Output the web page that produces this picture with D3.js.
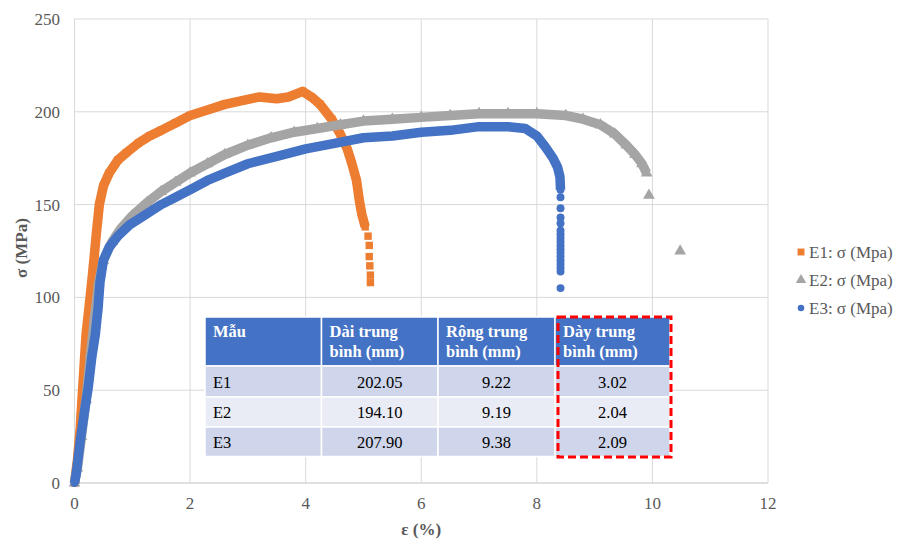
<!DOCTYPE html>
<html>
<head>
<meta charset="utf-8">
<script src="https://cdn.jsdelivr.net/npm/d3@7"></script>
<style>
  body { margin: 0; background: #fff; }
</style>
</head>
<body>
<div id="chart"></div>
<script>
// strain (%) / stress (MPa)
const e1Curve = [[0,0],[0.05,12],[0.1,30],[0.15,55],[0.2,80],[0.27,100],[0.32,115],[0.38,135],[0.43,150],[0.5,160],[0.6,167],[0.75,174],[0.9,178],[1.1,183],[1.3,187],[1.5,190],[1.75,194],[2.0,198],[2.3,201],[2.6,204],[2.9,206],[3.2,208],[3.5,207],[3.7,208],[3.95,211],[4.1,208],[4.25,204],[4.45,196],[4.6,188],[4.72,180],[4.8,172],[4.88,163],[4.93,152],[4.97,145],[5.03,138]];
const e1Tail = [[5.08,133],[5.1,128],[5.1,122],[5.11,117],[5.12,112],[5.12,108]];

const e2Curve = [[0,0],[0.05,8],[0.12,25],[0.2,45],[0.28,70],[0.35,90],[0.42,108],[0.5,120],[0.65,130],[0.8,137],[1.0,144],[1.25,151],[1.5,157],[1.75,162],[2.0,167],[2.3,172],[2.6,177],[3.0,182],[3.4,186],[3.8,189],[4.2,191],[4.6,193],[5.0,195],[5.5,196],[6.0,197],[6.5,198],[7.0,199],[7.5,199],[8.0,199],[8.5,198],[8.8,196],[9.1,193],[9.35,188],[9.55,182],[9.7,177],[9.82,172],[9.9,167]];
const e2Tail = [[9.94,155],[10.48,125]];

const e3Curve = [[0,0],[0.03,5],[0.1,23],[0.17,38],[0.24,52],[0.3,68],[0.36,80],[0.41,95],[0.44,108],[0.5,120],[0.6,127],[0.75,133],[0.95,139],[1.2,144],[1.5,150],[1.75,154],[2.0,158],[2.3,163],[2.6,167],[3.0,172],[3.5,176],[4.0,180],[4.5,183],[5.0,186],[5.5,187],[6.0,189],[6.5,190],[7.0,192],[7.5,192],[7.8,191],[8.0,187],[8.15,181],[8.28,175],[8.36,170],[8.4,165],[8.41,158]];
const e3Tail = [[8.41,154],[8.41,148],[8.41,143],[8.41,140],[8.41,136],[8.41,134],[8.41,132],[8.41,130],[8.41,128],[8.41,126],[8.41,124],[8.41,122],[8.41,120],[8.41,118],[8.41,116],[8.41,114],[8.41,105]];

const seriesNames = ["E1: σ (Mpa)", "E2: σ (Mpa)", "E3: σ (Mpa)"];
const seriesColors = ["#ED7D31", "#A5A5A5", "#4472C4"];
const seriesSymbols = [d3.symbolSquare, d3.symbolTriangle, d3.symbolCircle];

const xTicks = [0, 2, 4, 6, 8, 10, 12];
const yTicks = [0, 50, 100, 150, 200, 250];

// table inset
const tableHeader = ["Mẫu", "Dài trung|bình (mm)", "Rộng trung|bình (mm)", "Dày trung|bình (mm)"];
const tableSamples = ["E1", "E2", "E3"];
const tableLength = ["202.05", "194.10", "207.90"];
const tableWidth = ["9.22", "9.19", "9.38"];
const tableThick = ["3.02", "2.04", "2.09"];

// pick the first serif face that is really installed
function pickFont(list) {
  const ctx = document.createElement("canvas").getContext("2d");
  const probe = "mmmmmwwwwlli 0123456789 Mẫu";
  const widthOf = f => { ctx.font = "40px " + f; return ctx.measureText(probe).width; };
  const mono = widthOf("monospace"), sans = widthOf("sans-serif");
  for (const f of list) {
    const w1 = widthOf(`"${f}", monospace`), w2 = widthOf(`"${f}", sans-serif`);
    if (w1 !== mono || w2 !== sans) return `"${f}"`;
  }
  return "serif";
}
const FONT = pickFont(["Liberation Serif", "Times New Roman", "Tinos", "Noto Serif", "DejaVu Serif", "FreeSerif"]) + ", serif";

const W = 902, H = 540;
const svg = d3.select("#chart").append("svg")
  .attr("width", W).attr("height", H)
  .style("font-family", FONT);

const x = d3.scaleLinear().domain([0, 12]).range([74.5, 768]);
const y = d3.scaleLinear().domain([0, 250]).range([483, 19]);

// grid
svg.append("g").selectAll("line").data(yTicks).join("line")
  .attr("x1", x(0)).attr("x2", x(12))
  .attr("y1", d => y(d)).attr("y2", d => y(d))
  .attr("stroke", d => d === 0 ? "#bfbfbf" : "#d9d9d9").attr("stroke-width", 1);
svg.append("g").selectAll("line").data(xTicks).join("line")
  .attr("x1", d => x(d)).attr("x2", d => x(d))
  .attr("y1", y(0)).attr("y2", y(250))
  .attr("stroke", "#d9d9d9").attr("stroke-width", 1);

// tick labels
svg.append("g").selectAll("text").data(yTicks).join("text")
  .attr("x", 60).attr("y", d => y(d) + 6)
  .attr("text-anchor", "end").attr("font-size", 17).attr("fill", "#595959")
  .text(d => d);
svg.append("g").selectAll("text").data(xTicks).join("text")
  .attr("x", d => x(d)).attr("y", 509)
  .attr("text-anchor", "middle").attr("font-size", 17).attr("fill", "#595959")
  .text(d => d);

// axis titles
svg.append("text").attr("x", x(6)).attr("y", 535)
  .attr("text-anchor", "middle").attr("font-size", 17).attr("font-weight", "bold")
  .attr("fill", "#595959").text("ε (%)");
svg.append("text").attr("transform", "translate(27,248) rotate(-90)")
  .attr("text-anchor", "middle").attr("font-size", 17).attr("font-weight", "bold")
  .attr("fill", "#595959").text("σ (MPa)");

// series
const curves = [e1Curve, e2Curve, e3Curve];
const tails = [e1Tail, e2Tail, e3Tail];
const line = d3.line().x(d => x(d[0])).y(d => y(d[1]));
const symbolSizes = [55, 60, 50];

curves.forEach((pts, i) => {
  const g = svg.append("g");
  g.append("path").datum(pts)
    .attr("d", line).attr("fill", "none")
    .attr("stroke", seriesColors[i]).attr("stroke-width", 9.5)
    .attr("stroke-linejoin", "round");
  g.selectAll("path.m").data(pts.concat(tails[i])).join("path")
    .attr("class", "m")
    .attr("transform", d => `translate(${x(d[0])},${y(d[1])})`)
    .attr("d", d3.symbol().type(seriesSymbols[i]).size(symbolSizes[i]))
    .attr("fill", seriesColors[i]);
});

// legend
const legend = svg.append("g");
seriesNames.forEach((name, i) => {
  const ly = 252 + i * 28;
  legend.append("path")
    .attr("transform", `translate(801,${ly})`)
    .attr("d", d3.symbol().type(seriesSymbols[i]).size(i === 2 ? 34 : 48))
    .attr("fill", seriesColors[i]);
  legend.append("text").attr("x", 809).attr("y", ly + 6)
    .attr("font-size", 17).attr("fill", "#595959").text(name);
});

// table
const colX = [205, 321.5, 438, 555, 670];
const rowY = [317, 366, 397, 427, 456.5];
const rowFill = ["#CFD5EA", "#E9EBF5", "#CFD5EA"];
const tbl = svg.append("g");

tableHeader.forEach((h, c) => {
  tbl.append("rect").attr("x", colX[c]).attr("y", rowY[0])
    .attr("width", colX[c + 1] - colX[c]).attr("height", rowY[1] - rowY[0])
    .attr("fill", "#4472C4").attr("stroke", "#fff").attr("stroke-width", 1.5);
  h.split("|").forEach((part, k) => {
    tbl.append("text").attr("x", colX[c] + 8).attr("y", rowY[0] + 20 + k * 20)
      .attr("font-size", 16.5).attr("font-weight", "bold").attr("fill", "#fff")
      .text(part);
  });
});

tableSamples.forEach((s, r) => {
  const cells = [s, tableLength[r], tableWidth[r], tableThick[r]];
  cells.forEach((v, c) => {
    tbl.append("rect").attr("x", colX[c]).attr("y", rowY[r + 1])
      .attr("width", colX[c + 1] - colX[c]).attr("height", rowY[r + 2] - rowY[r + 1])
      .attr("fill", rowFill[r]).attr("stroke", "#fff").attr("stroke-width", 1.5);
    tbl.append("text")
      .attr("x", c === 0 ? colX[c] + 8 : (colX[c] + colX[c + 1]) / 2)
      .attr("y", (rowY[r + 1] + rowY[r + 2]) / 2 + 6)
      .attr("text-anchor", c === 0 ? "start" : "middle")
      .attr("font-size", 16.5).attr("fill", "#000").text(v);
  });
});

// red dashed highlight round the thickness column
tbl.append("rect").attr("x", 558).attr("y", 317).attr("width", 113).attr("height", 140)
  .attr("fill", "none").attr("stroke", "#FF0000").attr("stroke-width", 3)
  .attr("stroke-dasharray", "8,4");
</script>
</body>
</html>
